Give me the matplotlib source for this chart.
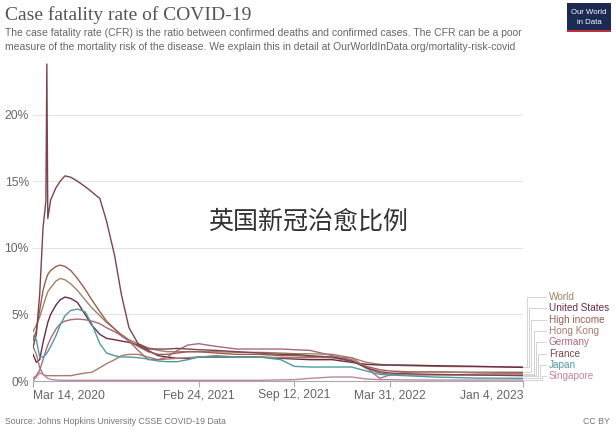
import numpy as np
import pandas as pd
import matplotlib
matplotlib.use("Agg")
import matplotlib.pyplot as plt
import matplotlib.transforms as mtransforms
from matplotlib.patches import Rectangle

plt.rcParams['font.family'] = ['Liberation Sans', 'DejaVu Sans']

# Dates shared by every series (denser in spring 2020 where the curves move fast)
dates = pd.to_datetime([
    "2020-03-14", "2020-03-21", "2020-03-28", "2020-04-04", "2020-04-10", "2020-04-12",
    "2020-04-14", "2020-04-20", "2020-05-01", "2020-05-10", "2020-05-20", "2020-06-01",
    "2020-06-15", "2020-07-01", "2020-07-15", "2020-08-01", "2020-08-15", "2020-09-01",
    "2020-09-15", "2020-10-01", "2020-10-20", "2020-11-10", "2020-12-01", "2020-12-20",
    "2021-01-10", "2021-02-01", "2021-02-24", "2021-04-01", "2021-05-15", "2021-07-01",
    "2021-08-15", "2021-09-12", "2021-10-15", "2021-12-01", "2022-01-10", "2022-02-10",
    "2022-03-10", "2022-03-31", "2022-05-01", "2022-07-01", "2022-10-01", "2023-01-04",
])

# Case fatality rate, %
world = [3.7, 4.2, 4.8, 5.6, 6.3, 6.5, 6.7, 7.0, 7.5, 7.7, 7.6, 7.3, 6.8, 6.1, 5.5, 4.9,
         4.4, 3.9, 3.5, 3.1, 2.8, 2.5, 2.3, 2.2, 2.2, 2.2, 2.2, 2.2, 2.15, 2.15, 2.1, 2.05,
         2.05, 2.0, 1.75, 1.4, 1.25, 1.2, 1.15, 1.1, 1.07, 1.05]
united_states = [2.0, 1.4, 1.6, 2.9, 3.8, 4.1, 4.4, 5.0, 5.7, 6.1, 6.3, 6.2, 5.9, 5.0, 4.2,
                 3.5, 3.2, 3.1, 3.0, 2.9, 2.7, 2.3, 1.9, 1.8, 1.7, 1.7, 1.8, 1.8, 1.8, 1.8,
                 1.7, 1.65, 1.6, 1.6, 1.4, 1.25, 1.2, 1.2, 1.2, 1.15, 1.1, 1.02]
high_income = [3.0, 3.8, 5.3, 6.8, 7.6, 7.8, 8.0, 8.3, 8.6, 8.7, 8.6, 8.3, 7.7, 6.9, 6.1,
               5.2, 4.5, 3.9, 3.4, 3.0, 2.6, 2.2, 2.0, 2.0, 2.1, 2.2, 2.2, 2.1, 2.0, 2.0,
               1.9, 1.9, 1.85, 1.75, 1.5, 1.1, 0.85, 0.75, 0.7, 0.68, 0.66, 0.65]
hong_kong = [2.6, 2.0, 1.0, 0.5, 0.4, 0.4, 0.4, 0.4, 0.4, 0.4, 0.4, 0.4, 0.5, 0.6, 0.65,
             1.0, 1.3, 1.6, 1.9, 2.0, 2.0, 1.8, 1.6, 1.65, 1.7, 1.75, 1.8, 1.9, 1.8, 1.8,
             1.75, 1.75, 1.75, 1.75, 1.75, 1.0, 0.2, 0.45, 0.65, 0.7, 0.6, 0.55]
germany = [0.2, 0.4, 0.8, 1.6, 2.3, 2.5, 2.7, 3.2, 3.9, 4.3, 4.5, 4.6, 4.65, 4.6, 4.5, 4.3,
           4.0, 3.7, 3.4, 3.0, 2.3, 1.6, 1.6, 1.8, 2.3, 2.7, 2.8, 2.6, 2.4, 2.4, 2.4, 2.35,
           2.3, 1.9, 1.6, 0.95, 0.6, 0.5, 0.45, 0.45, 0.45, 0.45]
france = [2.5, 3.5, 6.5, 11.5, 13.5, 23.8, 12.2, 13.6, 14.5, 15.0, 15.4, 15.3, 15.0, 14.6,
          14.2, 13.7, 12.0, 9.4, 6.5, 4.0, 2.8, 2.4, 2.4, 2.4, 2.45, 2.4, 2.35, 2.3, 2.2,
          2.1, 2.0, 2.0, 1.9, 1.8, 1.5, 1.0, 0.7, 0.6, 0.55, 0.5, 0.45, 0.4]
japan = [3.4, 3.1, 1.8, 1.8, 2.0, 2.1, 2.2, 2.6, 3.4, 4.2, 4.9, 5.3, 5.4, 5.2, 4.3, 2.8,
         2.1, 1.9, 1.8, 1.8, 1.75, 1.65, 1.5, 1.45, 1.45, 1.6, 1.8, 1.85, 1.8, 1.8, 1.6,
         1.1, 1.05, 1.05, 1.05, 0.75, 0.5, 0.45, 0.4, 0.3, 0.22, 0.2]
singapore = [0.0, 0.3, 0.6, 0.5, 0.3, 0.25, 0.2, 0.12, 0.08, 0.06, 0.05, 0.05, 0.05, 0.05,
             0.05, 0.05, 0.05, 0.05, 0.05, 0.05, 0.05, 0.05, 0.05, 0.05, 0.05, 0.05, 0.05,
             0.05, 0.05, 0.05, 0.08, 0.1, 0.2, 0.3, 0.3, 0.15, 0.1, 0.1, 0.08, 0.07, 0.07, 0.07]

names = ["World", "United States", "High income", "Hong Kong", "Germany", "France", "Japan", "Singapore"]
series = [world, united_states, high_income, hong_kong, germany, france, japan, singapore]
colors = ["#a08462", "#6a2c48", "#9a5e50", "#a67c6a", "#a8687e", "#7a4450", "#4f9a9e", "#bf84a6"]

tick_dates = pd.to_datetime(["2020-03-14", "2021-02-24", "2021-09-12", "2022-03-31", "2023-01-04"])
tick_labels = ["Mar 14, 2020", "Feb 24, 2021", "Sep 12, 2021", "Mar 31, 2022", "Jan 4, 2023"]
y_ticks = [0, 5, 10, 15, 20]

fig = plt.figure(figsize=(6.16, 4.32), dpi=100)
W, H = 616, 432
ax = fig.add_axes([33 / W, 1 - 381 / H, 490 / W, 321 / H])

for vals, c in zip(series, colors):
    ax.plot(dates, vals, color=c, lw=1.0, solid_joinstyle='round')

ax.set_xlim(tick_dates[0], tick_dates[-1])
ax.set_ylim(0, 24.1)
ax.set_yticks(y_ticks)
ax.set_yticklabels([f"{v}%" for v in y_ticks], color="#666666", fontsize=8.7)
ax.tick_params(axis='y', length=0, pad=3)
for v in y_ticks[1:]:
    ax.axhline(v, color="#e4e4e4", lw=0.8, zorder=0)

ax.set_xticks(tick_dates)
ax.set_xticklabels(tick_labels, color="#666666", fontsize=8.7)
ax.tick_params(axis='x', length=4, color="#aaaaaa", pad=2)
xl = ax.get_xticklabels()
xl[0].set_ha('left')
xl[-1].set_ha('right')

for s in ["top", "right", "left"]:
    ax.spines[s].set_visible(False)
ax.spines["bottom"].set_color("#aaaaaa")
ax.spines["bottom"].set_linewidth(0.8)

# Labels at the right end with elbow connectors
trans = mtransforms.blended_transform_factory(ax.transAxes, ax.transData)
label_top = 6.3
label_step = 0.85
for i, (name, vals, c) in enumerate(zip(names, series, colors)):
    ly = label_top - i * label_step
    xe = 1.008 + i * 0.0045
    ax.plot([1.0, xe, xe, 1.046], [vals[-1], vals[-1], ly, ly], color="#cccccc", lw=0.6,
            transform=trans, clip_on=False)
    ax.text(1.053, ly, name, color=c, fontsize=7.2, va='center', ha='left', transform=trans)

# Title, subtitle, footer
fig.text(5 / W, 1 - 15 / H, "Case fatality rate of COVID-19", fontsize=14, color="#555555",
         family=["Liberation Serif", "DejaVu Serif"], va='center')
fig.text(5 / W, 1 - 33 / H,
         "The case fatality rate (CFR) is the ratio between confirmed deaths and confirmed cases. The CFR can be a poor",
         fontsize=7.5, color="#666666", va='center')
fig.text(5 / W, 1 - 47 / H,
         "measure of the mortality risk of the disease. We explain this in detail at OurWorldInData.org/mortality-risk-covid",
         fontsize=7.5, color="#666666", va='center')
fig.text(5 / W, 1 - 422 / H, "Source: Johns Hopkins University CSSE COVID-19 Data",
         fontsize=6.3, color="#777777", va='center')
fig.text(610 / W, 1 - 422 / H, "CC BY", fontsize=6.3, color="#777777", va='center', ha='right')

# Our World in Data logo box
fig.patches.append(Rectangle((567 / W, 1 - 32 / H), 44 / W, 29 / H, transform=fig.transFigure,
                             facecolor="#1a2a52", edgecolor="none"))
fig.patches.append(Rectangle((567 / W, 1 - 32 / H), 44 / W, 2 / H, transform=fig.transFigure,
                             facecolor="#c0303a", edgecolor="none"))
fig.text(589 / W, 1 - 12 / H, "Our World", fontsize=5.6, color="white", ha='center', va='center')
fig.text(589 / W, 1 - 22 / H, "in Data", fontsize=5.6, color="white", ha='center', va='center')

# Overlaid caption
fig.text(308 / W, 1 - 222 / H, "英国新冠治愈比例", fontsize=18, color="#333333", fontweight='light',
         family=["Noto Sans CJK SC", "DejaVu Sans"], ha='center', va='center')

fig.savefig("out.png", dpi=100)
